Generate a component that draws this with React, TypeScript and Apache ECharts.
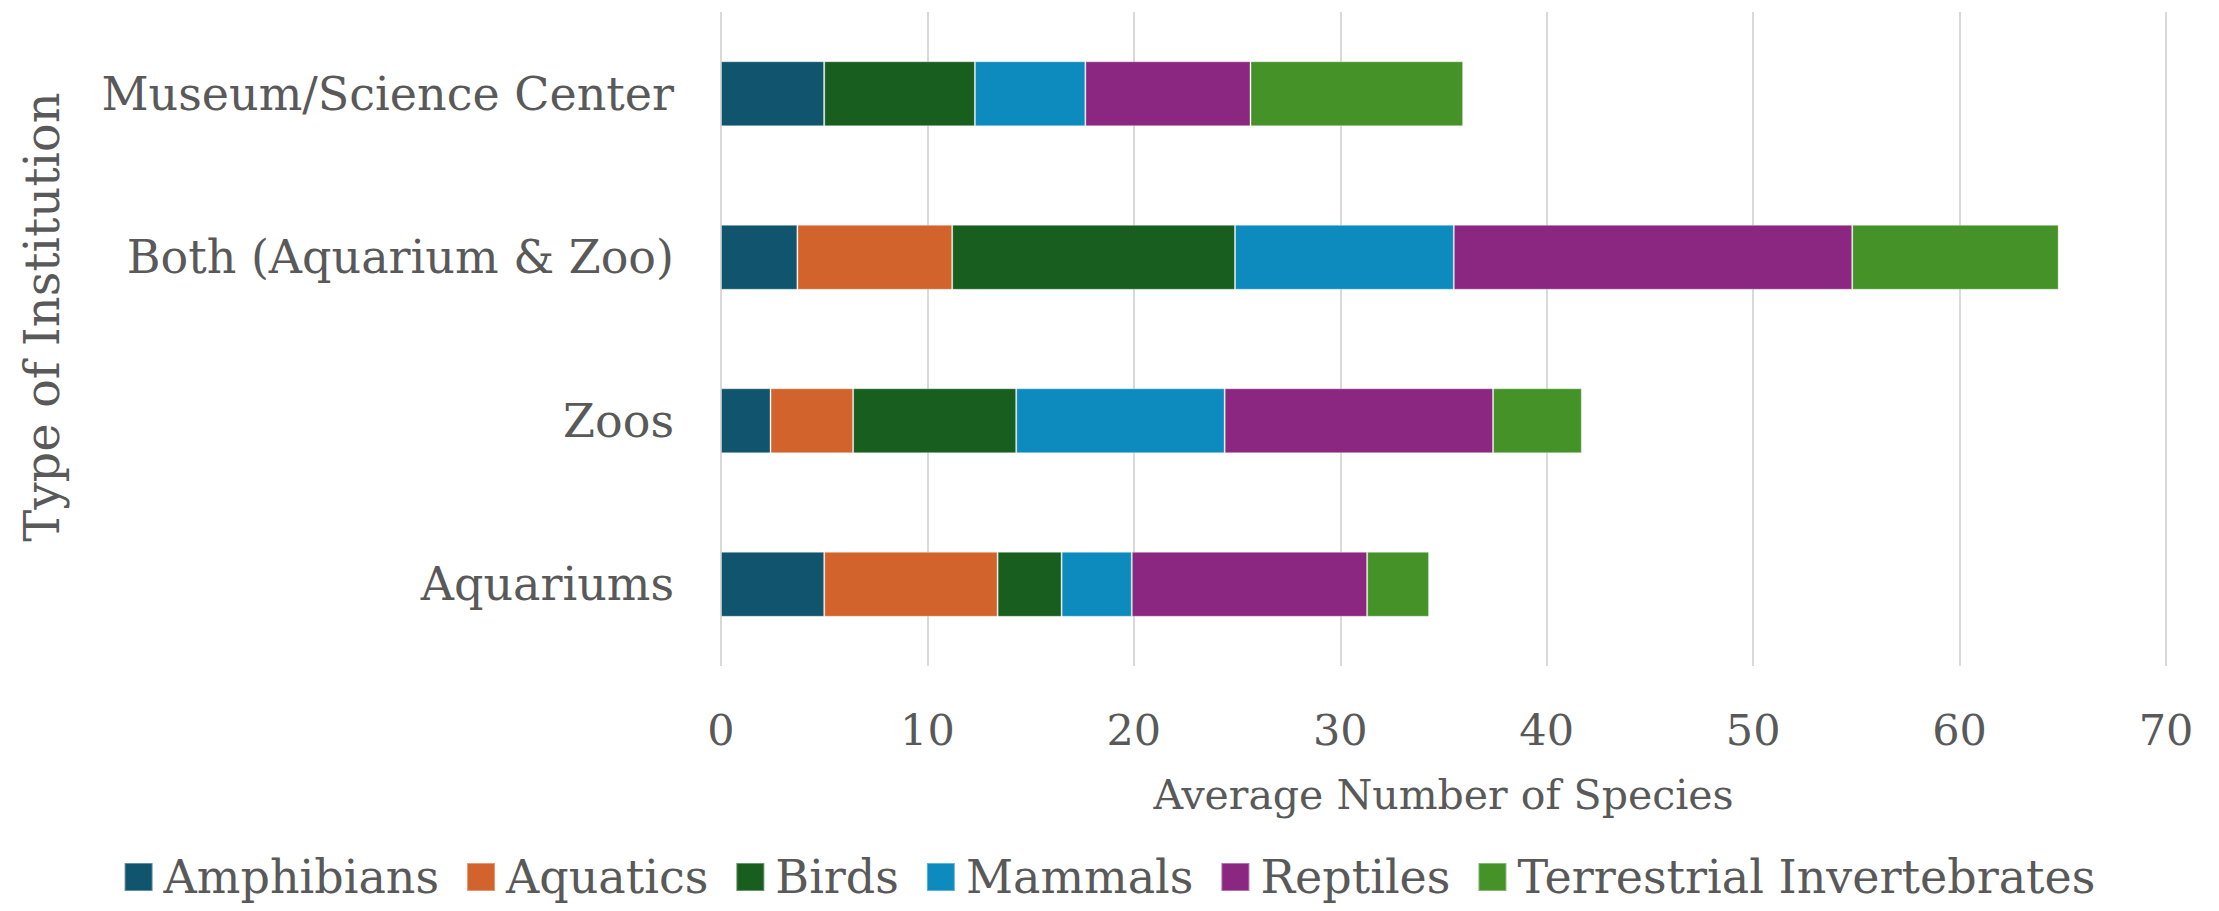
import React, { useEffect, useRef } from "react";
import * as echarts from "echarts";

const categories = ["Aquariums", "Zoos", "Both (Aquarium & Zoo)", "Museum/Science Center"];
const seriesNames = ["Amphibians", "Aquatics", "Birds", "Mammals", "Reptiles", "Terrestrial Invertebrates"];
const amphibians = [5.0, 2.4, 3.7, 5.0];
const aquatics = [8.4, 4.0, 7.5, 0];
const birds = [3.1, 7.9, 13.7, 7.3];
const mammals = [3.4, 10.1, 10.6, 5.35];
const reptiles = [11.4, 13.0, 19.3, 8.0];
const terrestrialInvertebrates = [3.0, 4.3, 10.0, 10.3];
const xTicks = [0, 10, 20, 30, 40, 50, 60, 70];
const colors = ["#11546E", "#D2632C", "#175E1F", "#0E8BBE", "#8C2781", "#459228"];

const FONT = "DejaVu Serif";
const TEXT = "#595959";

export default function App() {
  const ref = useRef<HTMLDivElement>(null);
  useEffect(() => {
    document.body.style.margin = "0";
    const chart = echarts.init(ref.current!, null, { renderer: "svg" });
    const values = [amphibians, aquatics, birds, mammals, reptiles, terrestrialInvertebrates];
    chart.setOption({
      animation: false,
      backgroundColor: "#ffffff",
      textStyle: { fontFamily: FONT, color: TEXT },
      grid: { left: 721, right: 53, top: 12, bottom: 245, containLabel: false },
      legend: {
        bottom: 6,
        left: "center",
        itemWidth: 28,
        itemHeight: 28,
        itemGap: 27,
        icon: "rect",
        textStyle: { fontFamily: FONT, fontSize: 46, color: TEXT, padding: [0, 0, 0, 6] },
        data: seriesNames,
      },
      xAxis: {
        type: "value",
        min: xTicks[0],
        max: xTicks[xTicks.length - 1],
        interval: 10,
        axisLine: { show: false },
        axisTick: { show: false },
        splitLine: { show: true, lineStyle: { color: "#D9D9D9", width: 2 } },
        axisLabel: { fontFamily: FONT, fontSize: 43, color: TEXT, margin: 42 },
        name: "Average Number of Species",
        nameLocation: "middle",
        nameGap: 108,
        nameTextStyle: { fontFamily: FONT, fontSize: 41, color: TEXT },
      },
      yAxis: {
        type: "category",
        data: categories,
        axisLine: { show: false },
        axisTick: { show: false },
        splitLine: { show: false },
        axisLabel: { fontFamily: FONT, fontSize: 46, color: TEXT, margin: 47 },
      },
      graphic: [
        {
          type: "text",
          x: 42,
          y: 317,
          rotation: Math.PI / 2,
          style: {
            text: "Type of Institution",
            fontFamily: FONT,
            fontSize: 48,
            fill: TEXT,
            align: "center",
            verticalAlign: "middle",
          },
        },
      ],
      series: seriesNames.map((name, i) => ({
        name,
        type: "bar",
        stack: "total",
        barWidth: 65,
        data: values[i],
        itemStyle: { color: colors[i], borderColor: "rgba(255,255,255,0.35)", borderWidth: 1 },
      })),
    });
    return () => chart.dispose();
  }, []);
  return (
    <div
      ref={ref}
      style={{ position: "fixed", left: 0, top: 0, width: 2219, height: 911 }}
    />
  );
}
